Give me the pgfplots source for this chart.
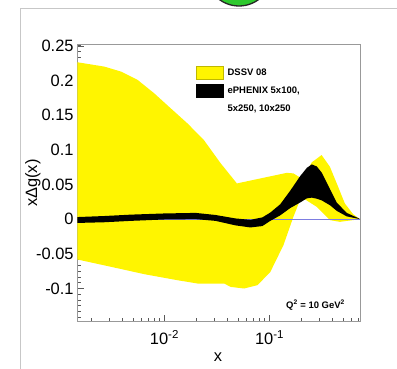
\documentclass[border=0pt]{standalone}
\usepackage{pgfplots}
\pgfplotsset{compat=1.18}
\usepackage{fontspec}
\setmainfont{Liberation Sans}
\definecolor{dssv}{RGB}{255,245,0}
\definecolor{zline}{RGB}{125,125,225}
\definecolor{yaxis}{RGB}{95,95,170}
\begin{document}
\begin{tikzpicture}[x=1bp,y=1bp]
\useasboundingbox (0,0) rectangle (397,369);
\begin{scope}
\clip (0,0) rectangle (397,369);
\draw[color=black!22, line width=1bp] (20.7,-10) -- (20.7,360.7) -- (410,360.7);
\draw[fill={rgb,255:red,45;green,200;blue,45}, draw=black!85, line width=1.3bp] (239,396) circle (33);
\end{scope}
\begin{axis}[
  at={(77.3bp,47.3bp)}, anchor=south west, scale only axis,
  width=282.7bp, height=277.2bp,
  xmode=log, xmin=0.00148, xmax=0.727, ymin=-0.148, ymax=0.252,
  xtick={0.01,0.1}, xticklabels={10\textsuperscript{-2},10\textsuperscript{-1}},
  minor xtick={0.002,0.003,0.004,0.005,0.006,0.007,0.008,0.009,0.02,0.03,0.04,0.05,0.06,0.07,0.08,0.09,0.2,0.3,0.4,0.5,0.6,0.7},
  ytick={-0.1,-0.05,0,0.05,0.1,0.15,0.2,0.25},
  yticklabels={-0.1,-0.05,0,0.05,0.1,0.15,0.2,0.25},
  minor ytick={-0.14167,-0.13333,...,0.25},
  tick align=inside, xtick pos=bottom, ytick pos=left,
  major tick length=7bp, minor tick length=3.5bp,
  tick style={color=black!65, line width=0.6bp},
  axis line style={draw=black!40, line width=0.8bp},
  xticklabel style={font=\fontsize{16.5}{18}\selectfont, inner sep=0pt, yshift=-8.5bp},
  yticklabel style={font=\fontsize{16.5}{18}\selectfont, inner sep=0pt, xshift=-3.5bp},
  xlabel={x}, ylabel={xΔg(x)},
  xlabel style={at={(axis description cs:0.498,-0.127)}, anchor=center, font=\fontsize{16.5}{18}\selectfont},
  ylabel style={at={(axis description cs:-0.157,0.5)}, anchor=center, font=\fontsize{16.5}{18}\selectfont},
  legend cell align=left,
  legend style={at={(axis description cs:0.4199,0.9279)}, anchor=north west, draw=none, fill=none,
    inner sep=0pt, outer sep=0pt, row sep=1bp, column sep=4.5bp,
    font=\bfseries\fontsize{9.5}{11}\selectfont,
    nodes={inner xsep=0pt, inner ysep=4bp, text height=7bp, text depth=2bp}},
]
\addplot[fill=dssv, draw=none,
  legend image code/.code={\draw[fill=dssv, draw=dssv!75!black, line width=0.4bp] (0bp,-6.35bp) rectangle (26.7bp,6.35bp);}]
 coordinates {
 (0.00148,0.2264) (0.002679,0.2201) (0.003856,0.2129) (0.005549,0.2009) (0.007969,0.1817)
 (0.011474,0.1599) (0.016513,0.1383) (0.023714,0.1142) (0.034116,0.081) (0.048916,0.0515)
 (0.0817,0.0587) (0.1462,0.0668) (0.1688,0.066) (0.1958,0.060) (0.2267,0.070) (0.2528,0.082)
 (0.3134,0.0925) (0.3757,0.0756) (0.4501,0.0467) (0.5211,0.0227) (0.6244,0.0072) (0.727,0)
 (0.6244,-0.0014) (0.4672,-0.0039) (0.3757,-0.0014) (0.2811,0.0178) (0.2178,0.0285) (0.1953,0.0275)
 (0.1688,0.0033) (0.1357,-0.0376) (0.1015,-0.0766) (0.0853,-0.0882) (0.07646,-0.0954) (0.05722,-0.1001)
 (0.04272,-0.0978) (0.037,-0.0929) (0.02067,-0.0929) (0.013366,-0.0882) (0.006463,-0.0795)
 (0.00312,-0.0689) (0.00148,-0.0582)
 } -- cycle;
\addlegendentry{DSSV 08}
\addplot[zline, line width=0.8bp, forget plot] coordinates {(0.00148,0) (0.727,0)};
\addplot[fill=black, draw=none,
  legend image code/.code={\draw[fill=black, draw=black, line width=0.4bp] (0bp,-6.35bp) rectangle (26.7bp,6.35bp);}]
 coordinates {
 (0.00148,0.003) (0.00268,0.0045) (0.00479,0.0065) (0.01,0.0082) (0.0198,0.009) (0.0306,0.006)
 (0.0474,0.001) (0.0658,-0.001) (0.0855,0.0025) (0.1018,0.0095) (0.1266,0.0215) (0.1575,0.041)
 (0.1958,0.062) (0.2267,0.074) (0.2528,0.079) (0.2819,0.076) (0.3145,0.067) (0.377,0.043)
 (0.4363,0.024) (0.5429,0.009) (0.6753,0.0025) (0.727,0)
 (0.6753,0.001) (0.5429,0.004) (0.4363,0.012) (0.377,0.020) (0.3145,0.027) (0.2819,0.0295)
 (0.2528,0.031) (0.2267,0.030) (0.1958,0.024) (0.1575,0.016) (0.1266,0.0055) (0.1018,-0.0025)
 (0.0855,-0.010) (0.0658,-0.012) (0.0474,-0.009) (0.0306,-0.0025) (0.0198,0.0) (0.01,-0.0005)
 (0.00479,-0.0025) (0.00268,-0.0045) (0.00148,-0.0055)
 } -- cycle;
\addlegendentry{ePHENIX 5x100,}
\addlegendimage{empty legend}
\addlegendentry{5x250, 10x250}
\node[anchor=east, font=\bfseries\fontsize{9.5}{11}\selectfont, inner sep=0pt] at (rel axis cs:0.947,0.06) {Q\textsuperscript{2} = 10 GeV\textsuperscript{2}};
\end{axis}
\end{tikzpicture}
\end{document}
